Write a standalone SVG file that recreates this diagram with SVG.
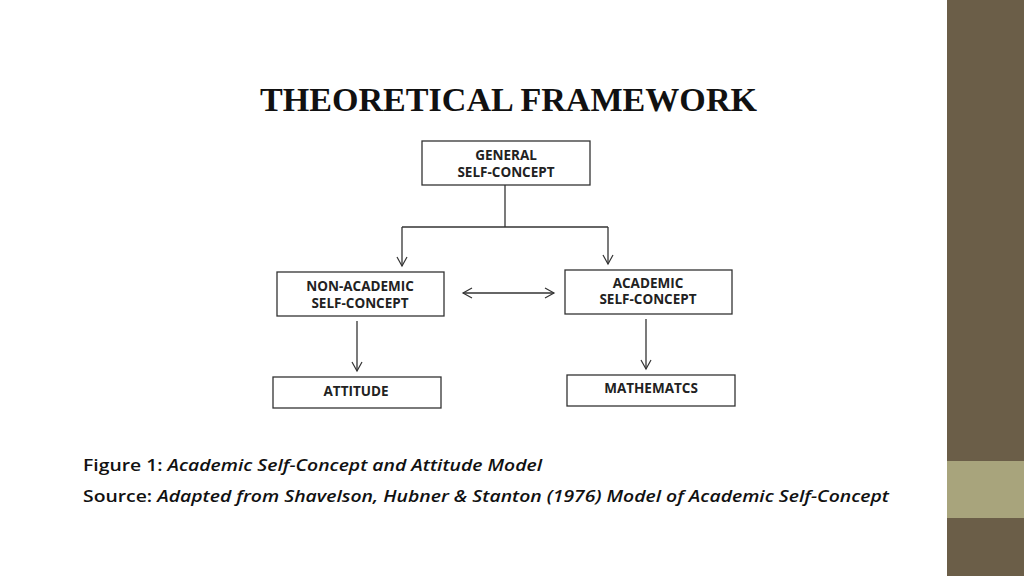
<svg xmlns="http://www.w3.org/2000/svg" width="1024" height="576" viewBox="0 0 1024 576">
<style>
.box{fill:#fff;stroke:#333;stroke-width:1.3}
.lbl{font-family:"Open Sans","DejaVu Sans",sans-serif;font-weight:bold;font-size:13.5px;fill:#222;text-anchor:middle}
.ln{stroke:#333;stroke-width:1.3;fill:none}
.cap{font-family:"Open Sans","Liberation Sans",sans-serif;font-weight:600;font-size:17px;fill:#111}
</style>
<defs><marker id="a" markerWidth="12" markerHeight="12" refX="10" refY="6" orient="auto-start-reverse" markerUnits="userSpaceOnUse"><path d="M1,1 L10,6 L1,11" fill="none" stroke="#333" stroke-width="1.2"/></marker></defs>
<rect width="1024" height="576" fill="#fff"/>
<rect x="947" y="0" width="77" height="576" fill="#6b5e48"/>
<rect x="947" y="461" width="77" height="57" fill="#a8a47c"/>
<text x="260" y="111" font-family="Liberation Serif,serif" font-weight="bold" font-size="33" fill="#111" textLength="497" lengthAdjust="spacingAndGlyphs">THEORETICAL FRAMEWORK</text>
<g id="connectors">
<path class="ln" d="M505,185 V227" stroke-width="2.2"/>
<path class="ln" d="M402,227 H608"/>
<path class="ln" d="M402,227 V266" marker-end="url(#a)"/>
<path class="ln" d="M608,227 V264" marker-end="url(#a)"/>
<path class="ln" d="M463,293 H554" marker-start="url(#a)" marker-end="url(#a)"/>
<path class="ln" d="M357,321 V371" marker-end="url(#a)"/>
<path class="ln" d="M646,319 V369" marker-end="url(#a)"/>
</g>
<g id="general"><rect class="box" x="422" y="141" width="168" height="44"/><text class="lbl" x="506" y="160">GENERAL</text><text class="lbl" x="506" y="177">SELF-CONCEPT</text></g>
<g id="nonacademic"><rect class="box" x="277" y="272" width="167" height="44"/><text class="lbl" x="360" y="291">NON-ACADEMIC</text><text class="lbl" x="360" y="308">SELF-CONCEPT</text></g>
<g id="academic"><rect class="box" x="565" y="270" width="167" height="44"/><text class="lbl" x="648" y="288">ACADEMIC</text><text class="lbl" x="648" y="304">SELF-CONCEPT</text></g>
<g id="attitude"><rect class="box" x="273" y="377" width="168" height="31"/><text class="lbl" x="356" y="396">ATTITUDE</text></g>
<g id="math"><rect class="box" x="567" y="375" width="168" height="31"/><text class="lbl" x="651" y="393">MATHEMATCS</text></g>
<text class="cap" x="83" y="471" textLength="459" lengthAdjust="spacingAndGlyphs">Figure 1: <tspan font-style="italic">Academic Self-Concept and Attitude Model</tspan></text>
<text class="cap" x="83" y="502" textLength="806" lengthAdjust="spacingAndGlyphs">Source: <tspan font-style="italic">Adapted from Shavelson, Hubner &amp; Stanton (1976) Model of Academic Self-Concept</tspan></text>
</svg>
